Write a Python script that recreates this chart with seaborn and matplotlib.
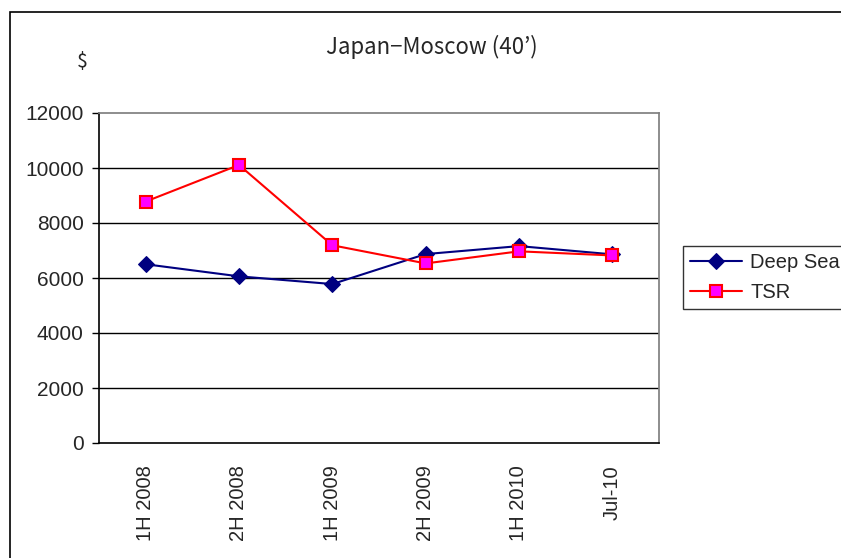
import matplotlib
matplotlib.use("Agg")
import matplotlib.pyplot as plt
import seaborn as sns
import pandas as pd
from matplotlib.patches import Rectangle
from matplotlib.ticker import FixedLocator

categories = ["1H 2008", "2H 2008", "1H 2009", "2H 2009", "1H 2010", "Jul-10"]
deep_sea = [6500, 6060, 5780, 6870, 7160, 6860]
tsr = [8780, 10110, 7190, 6530, 6970, 6820]
series_names = ["Deep Sea", "TSR"]

sns.set_theme(style="white")
plt.rcParams['font.family'] = ['Liberation Sans', 'DejaVu Sans']

df = pd.DataFrame({
    "period": categories * 2,
    "idx": list(range(len(categories))) * 2,
    "value": deep_sea + tsr,
    "series": [series_names[0]] * len(categories) + [series_names[1]] * len(categories),
})

fig = plt.figure(figsize=(8.41, 5.58), dpi=100)
ax = fig.add_axes([99/841, 1 - 443/558, (659-99)/841, (443-113)/558])

sns.lineplot(data=df[df.series == "Deep Sea"], x="idx", y="value", ax=ax,
             color="#000080", lw=1.5, marker="D", markersize=8,
             markerfacecolor="#000080", markeredgecolor="#000080",
             label="Deep Sea")
sns.lineplot(data=df[df.series == "TSR"], x="idx", y="value", ax=ax,
             color="#FF0000", lw=1.5, marker="s", markersize=9,
             markerfacecolor="#FF00FF", markeredgecolor="#FF0000", markeredgewidth=1.5,
             label="TSR")

ax.set_xlim(-0.5, len(categories) - 0.5)
ax.set_ylim(0, 12000)
ax.set_yticks(range(0, 12001, 2000))
ax.set_yticklabels([str(v) for v in range(0, 12001, 2000)], fontsize=15)
ax.set_xticks(range(len(categories)))
ax.set_xticklabels(categories, rotation=90, fontsize=14.5)
ax.xaxis.set_minor_locator(FixedLocator([i + 0.5 for i in range(len(categories) - 1)]))
ax.tick_params(axis="x", which="major", length=0, pad=16)
ax.tick_params(axis="x", which="minor", direction="in", length=5, color="black", width=1)
ax.tick_params(axis="y", which="major", direction="out", length=5, color="black", width=1, pad=6, left=True)
ax.set_xlabel("")
ax.set_ylabel("")

for v in range(2000, 12000, 2000):
    ax.axhline(v, color="black", lw=1, zorder=0)

ax.spines["left"].set_color("black")
ax.spines["bottom"].set_color("black")
ax.spines["left"].set_linewidth(1.2)
ax.spines["bottom"].set_linewidth(1.2)
ax.spines["top"].set_color("#808080")
ax.spines["right"].set_color("#808080")

leg = ax.legend(loc="upper left", bbox_to_anchor=(683/841, 1 - 246/558), bbox_transform=fig.transFigure,
                frameon=True, fontsize=14.5, fancybox=False, edgecolor="black",
                handlelength=2.6, borderpad=0.35, labelspacing=0.55, handletextpad=0.4,
                borderaxespad=0)
leg.get_frame().set_linewidth(1)

fig.text(432/841, 1 - 47/558, "Japan\u2212Moscow (40\u2019)", ha="center", va="center", fontsize=16,
         family=["Noto Sans CJK JP", "DejaVu Sans"])
fig.text(82/841, 1 - 62/558, "$", ha="center", va="center", fontsize=14,
         family=["Noto Sans CJK JP", "DejaVu Sans"])

fig.patches.append(Rectangle((10/841, -0.1), 1.2, 1 - 12/558 + 0.1, transform=fig.transFigure,
                             fill=False, edgecolor="black", lw=1.2))

fig.savefig("out.png", dpi=100)
